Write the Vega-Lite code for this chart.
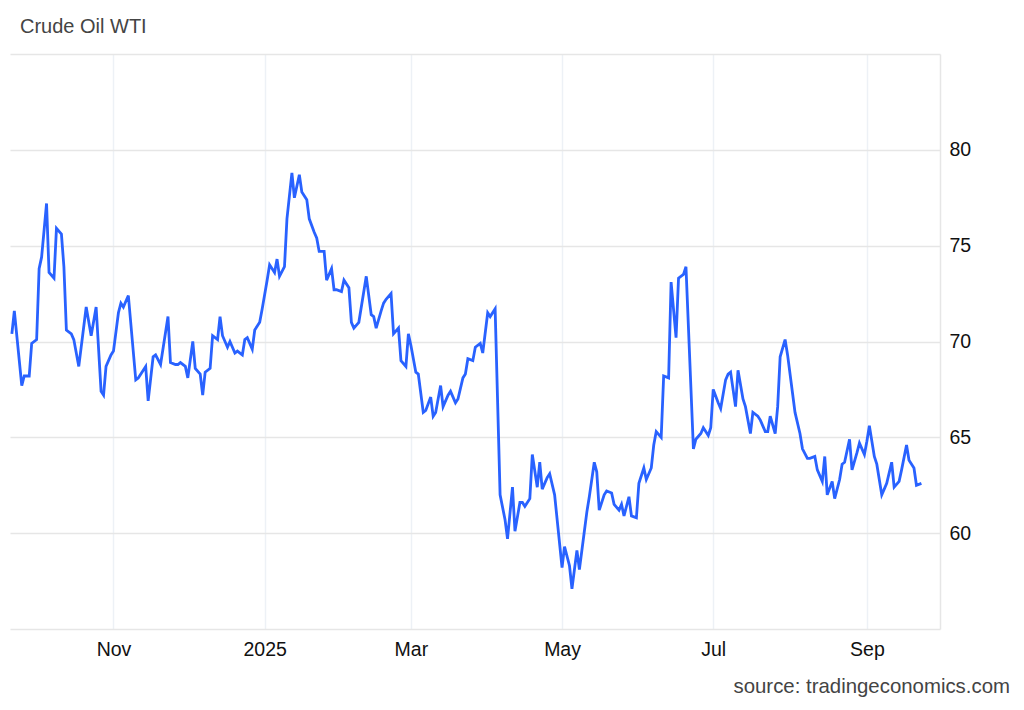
{
  "$schema": "https://vega.github.io/schema/vega-lite/v6.json",
  "autosize": {"type": "none"},
  "width": 930,
  "height": 575,
  "padding": {"left": 10, "top": 54, "right": 84, "bottom": 81},
  "background": "white",
  "title": {
    "text": "Crude Oil WTI",
    "anchor": "start",
    "frame": "group",
    "orient": "top",
    "baseline": "alphabetic",
    "offset": 1,
    "dx": 10,
    "font": "Liberation Sans",
    "fontSize": 20,
    "fontWeight": "normal",
    "color": "#444444"
  },
  "config": {
    "view": {"stroke": null},
    "font": "Liberation Sans"
  },
  "data": {
    "values": [
      {"date":"2024-09-21","price":70.4},{"date":"2024-09-22","price":71.6},{"date":"2024-09-25","price":67.7},{"date":"2024-09-26","price":68.2},{"date":"2024-09-28","price":68.2},{"date":"2024-09-29","price":69.9},
      {"date":"2024-10-01","price":70.1},{"date":"2024-10-02","price":73.8},{"date":"2024-10-03","price":74.4},{"date":"2024-10-05","price":77.2},{"date":"2024-10-06","price":73.6},{"date":"2024-10-08","price":73.3},{"date":"2024-10-09","price":75.9},{"date":"2024-10-11","price":75.6},{"date":"2024-10-12","price":73.9},{"date":"2024-10-13","price":70.6},{"date":"2024-10-15","price":70.4},{"date":"2024-10-16","price":70.1},{"date":"2024-10-18","price":68.7},{"date":"2024-10-21","price":71.8},{"date":"2024-10-23","price":70.3},{"date":"2024-10-25","price":71.8},{"date":"2024-10-27","price":67.4},{"date":"2024-10-28","price":67.2},{"date":"2024-10-29","price":68.7},{"date":"2024-10-31","price":69.3},
      {"date":"2024-11-01","price":69.5},{"date":"2024-11-03","price":71.5},{"date":"2024-11-04","price":72.0},{"date":"2024-11-05","price":71.8},{"date":"2024-11-07","price":72.4},{"date":"2024-11-10","price":68.0},{"date":"2024-11-11","price":68.1},{"date":"2024-11-14","price":68.7},{"date":"2024-11-15","price":66.9},{"date":"2024-11-17","price":69.2},{"date":"2024-11-18","price":69.3},{"date":"2024-11-20","price":68.8},{"date":"2024-11-23","price":71.3},{"date":"2024-11-24","price":68.9},{"date":"2024-11-26","price":68.8},{"date":"2024-11-27","price":68.8},{"date":"2024-11-28","price":68.9},{"date":"2024-11-30","price":68.7},
      {"date":"2024-12-01","price":68.1},{"date":"2024-12-03","price":70.0},{"date":"2024-12-04","price":68.6},{"date":"2024-12-06","price":68.3},{"date":"2024-12-07","price":67.2},{"date":"2024-12-08","price":68.4},{"date":"2024-12-10","price":68.6},{"date":"2024-12-11","price":70.3},{"date":"2024-12-13","price":70.1},{"date":"2024-12-14","price":71.3},{"date":"2024-12-15","price":70.3},{"date":"2024-12-17","price":69.7},{"date":"2024-12-18","price":70.0},{"date":"2024-12-20","price":69.4},{"date":"2024-12-21","price":69.5},{"date":"2024-12-23","price":69.3},{"date":"2024-12-24","price":70.1},{"date":"2024-12-25","price":70.2},{"date":"2024-12-27","price":69.6},{"date":"2024-12-28","price":70.6},{"date":"2024-12-30","price":71.0},{"date":"2024-12-31","price":71.7},
      {"date":"2025-01-02","price":73.2},{"date":"2025-01-03","price":74.0},{"date":"2025-01-05","price":73.6},{"date":"2025-01-06","price":74.3},{"date":"2025-01-07","price":73.4},{"date":"2025-01-09","price":73.9},{"date":"2025-01-10","price":76.4},{"date":"2025-01-12","price":78.8},{"date":"2025-01-13","price":77.5},{"date":"2025-01-15","price":78.7},{"date":"2025-01-16","price":77.8},{"date":"2025-01-18","price":77.4},{"date":"2025-01-19","price":76.4},{"date":"2025-01-21","price":75.7},{"date":"2025-01-22","price":75.4},{"date":"2025-01-23","price":74.7},{"date":"2025-01-25","price":74.7},{"date":"2025-01-26","price":73.2},{"date":"2025-01-28","price":73.8},{"date":"2025-01-29","price":72.7},{"date":"2025-01-30","price":72.7},
      {"date":"2025-02-01","price":72.6},{"date":"2025-02-02","price":73.2},{"date":"2025-02-04","price":72.8},{"date":"2025-02-05","price":71.0},{"date":"2025-02-06","price":70.7},{"date":"2025-02-08","price":71.0},{"date":"2025-02-11","price":73.4},{"date":"2025-02-13","price":71.4},{"date":"2025-02-14","price":71.3},{"date":"2025-02-15","price":70.7},{"date":"2025-02-17","price":71.6},{"date":"2025-02-18","price":72.0},{"date":"2025-02-19","price":72.2},{"date":"2025-02-21","price":72.5},{"date":"2025-02-22","price":70.4},{"date":"2025-02-24","price":70.7},{"date":"2025-02-25","price":69.0},{"date":"2025-02-27","price":68.7},{"date":"2025-02-28","price":70.4},
      {"date":"2025-03-01","price":69.8},{"date":"2025-03-03","price":68.4},{"date":"2025-03-04","price":68.3},{"date":"2025-03-06","price":66.3},{"date":"2025-03-07","price":66.4},{"date":"2025-03-09","price":67.1},{"date":"2025-03-10","price":66.1},{"date":"2025-03-11","price":66.3},{"date":"2025-03-13","price":67.7},{"date":"2025-03-14","price":66.6},{"date":"2025-03-16","price":67.2},{"date":"2025-03-17","price":67.4},{"date":"2025-03-19","price":66.8},{"date":"2025-03-20","price":67.0},{"date":"2025-03-22","price":68.1},{"date":"2025-03-23","price":68.3},{"date":"2025-03-24","price":69.1},{"date":"2025-03-26","price":69.0},{"date":"2025-03-27","price":69.7},{"date":"2025-03-29","price":69.9},{"date":"2025-03-30","price":69.4},
      {"date":"2025-04-01","price":71.5},{"date":"2025-04-02","price":71.3},{"date":"2025-04-04","price":71.7},{"date":"2025-04-06","price":62.0},{"date":"2025-04-08","price":60.7},{"date":"2025-04-09","price":59.7},{"date":"2025-04-11","price":62.4},{"date":"2025-04-12","price":60.1},{"date":"2025-04-14","price":61.6},{"date":"2025-04-15","price":61.6},{"date":"2025-04-16","price":61.4},{"date":"2025-04-18","price":61.8},{"date":"2025-04-19","price":64.1},{"date":"2025-04-21","price":62.4},{"date":"2025-04-22","price":63.7},{"date":"2025-04-23","price":62.3},{"date":"2025-04-25","price":62.9},{"date":"2025-04-26","price":63.1},{"date":"2025-04-28","price":62.0},
      {"date":"2025-05-01","price":58.2},{"date":"2025-05-02","price":59.3},{"date":"2025-05-04","price":58.3},{"date":"2025-05-05","price":57.1},{"date":"2025-05-07","price":59.1},{"date":"2025-05-08","price":58.1},{"date":"2025-05-10","price":60.1},{"date":"2025-05-11","price":61.1},{"date":"2025-05-12","price":61.9},{"date":"2025-05-14","price":63.7},{"date":"2025-05-15","price":63.2},{"date":"2025-05-16","price":61.2},{"date":"2025-05-18","price":62.0},{"date":"2025-05-19","price":62.2},{"date":"2025-05-21","price":62.1},{"date":"2025-05-22","price":61.5},{"date":"2025-05-24","price":61.2},{"date":"2025-05-25","price":61.5},{"date":"2025-05-26","price":60.9},{"date":"2025-05-28","price":61.9},{"date":"2025-05-29","price":60.9},{"date":"2025-05-31","price":60.8},
      {"date":"2025-06-01","price":62.6},{"date":"2025-06-03","price":63.4},{"date":"2025-06-04","price":62.8},{"date":"2025-06-06","price":63.4},{"date":"2025-06-07","price":64.6},{"date":"2025-06-08","price":65.3},{"date":"2025-06-10","price":65.0},{"date":"2025-06-11","price":68.2},{"date":"2025-06-13","price":68.1},{"date":"2025-06-14","price":73.1},{"date":"2025-06-16","price":70.2},{"date":"2025-06-17","price":73.3},{"date":"2025-06-19","price":73.5},{"date":"2025-06-20","price":73.9},{"date":"2025-06-23","price":64.4},{"date":"2025-06-24","price":64.9},{"date":"2025-06-26","price":65.2},{"date":"2025-06-27","price":65.5},{"date":"2025-06-29","price":65.1},{"date":"2025-06-30","price":65.5},
      {"date":"2025-07-01","price":67.5},{"date":"2025-07-03","price":66.8},{"date":"2025-07-04","price":66.5},{"date":"2025-07-06","price":68.0},{"date":"2025-07-07","price":68.3},{"date":"2025-07-08","price":68.4},{"date":"2025-07-10","price":66.6},{"date":"2025-07-11","price":68.5},{"date":"2025-07-13","price":67.0},{"date":"2025-07-14","price":66.6},{"date":"2025-07-16","price":65.2},{"date":"2025-07-17","price":66.3},{"date":"2025-07-19","price":66.1},{"date":"2025-07-20","price":65.9},{"date":"2025-07-22","price":65.3},{"date":"2025-07-23","price":65.3},{"date":"2025-07-24","price":66.1},{"date":"2025-07-26","price":65.2},{"date":"2025-07-27","price":66.6},{"date":"2025-07-28","price":69.2},{"date":"2025-07-30","price":70.1},{"date":"2025-07-31","price":69.3},
      {"date":"2025-08-02","price":67.3},{"date":"2025-08-03","price":66.3},{"date":"2025-08-05","price":65.2},{"date":"2025-08-06","price":64.4},{"date":"2025-08-08","price":63.9},{"date":"2025-08-09","price":63.9},{"date":"2025-08-11","price":64.0},{"date":"2025-08-12","price":63.3},{"date":"2025-08-14","price":62.7},{"date":"2025-08-15","price":64.0},{"date":"2025-08-16","price":62.0},{"date":"2025-08-18","price":62.7},{"date":"2025-08-19","price":61.8},{"date":"2025-08-21","price":62.8},{"date":"2025-08-22","price":63.6},{"date":"2025-08-23","price":63.7},{"date":"2025-08-25","price":64.9},{"date":"2025-08-26","price":63.3},{"date":"2025-08-28","price":64.2},{"date":"2025-08-29","price":64.7},{"date":"2025-08-31","price":64.1},
      {"date":"2025-09-01","price":64.8},{"date":"2025-09-02","price":65.6},{"date":"2025-09-04","price":64.0},{"date":"2025-09-05","price":63.6},{"date":"2025-09-07","price":62.0},{"date":"2025-09-08","price":62.3},{"date":"2025-09-09","price":62.6},{"date":"2025-09-11","price":63.7},{"date":"2025-09-12","price":62.4},{"date":"2025-09-14","price":62.7},{"date":"2025-09-15","price":63.3},{"date":"2025-09-17","price":64.6},{"date":"2025-09-18","price":63.8},{"date":"2025-09-20","price":63.4},{"date":"2025-09-21","price":62.5},{"date":"2025-09-23","price":62.6}
    ]
  },
  "mark": {"type": "line", "color": "#2962ff", "strokeWidth": 2.8, "interpolate": "linear"},
  "encoding": {
    "x": {
      "field": "date",
      "type": "temporal",
      "scale": {
        "type": "utc",
        "domain": [
          {"year": 2024, "month": 9, "date": 20, "hours": 6, "utc": true},
          {"year": 2025, "month": 9, "date": 30, "hours": 12, "utc": true}
        ]
      },
      "axis": {
        "values": [
          {"year": 2024, "month": 11, "date": 1, "utc": true},
          {"year": 2025, "month": 1, "date": 1, "utc": true},
          {"year": 2025, "month": 3, "date": 1, "utc": true},
          {"year": 2025, "month": 5, "date": 1, "utc": true},
          {"year": 2025, "month": 7, "date": 1, "utc": true},
          {"year": 2025, "month": 9, "date": 1, "utc": true}
        ],
        "labelExpr": "utcmonth(datum.value) == 0 ? utcFormat(datum.value, '%Y') : utcFormat(datum.value, '%b')",
        "grid": true,
        "gridColor": "#edf1f6",
        "gridWidth": 1.5,
        "domain": false,
        "ticks": false,
        "labelPadding": 11,
        "labelBaseline": "top",
        "labelFont": "Liberation Sans",
        "labelFontSize": 19.5,
        "labelColor": "#111111",
        "labelFlush": false,
        "labelOverlap": false,
        "title": "source: tradingeconomics.com",
        "titleFont": "Liberation Sans",
        "titleFontSize": 20.4,
        "titleFontWeight": "normal",
        "titleColor": "#444444",
        "titleAnchor": "end",
        "titleAlign": "right",
        "titleBaseline": "alphabetic",
        "titleX": 999.5,
        "titleY": 63.5
      }
    },
    "y": {
      "field": "price",
      "type": "quantitative",
      "scale": {"domain": [55, 85], "nice": false, "zero": false},
      "axis": {
        "orient": "right",
        "values": [55, 60, 65, 70, 75, 80, 85],
        "labelExpr": "datum.value >= 60 && datum.value <= 80 ? datum.label : ''",
        "grid": true,
        "gridColor": "#e6e6e6",
        "gridWidth": 1.5,
        "domain": true,
        "domainColor": "#e6e6e6",
        "domainWidth": 1.5,
        "ticks": false,
        "labelPadding": 9,
        "labelBaseline": "middle",
        "labelAlign": "left",
        "labelFont": "Liberation Sans",
        "labelFontSize": 19.5,
        "labelColor": "#111111",
        "title": null
      }
    }
  }
}
